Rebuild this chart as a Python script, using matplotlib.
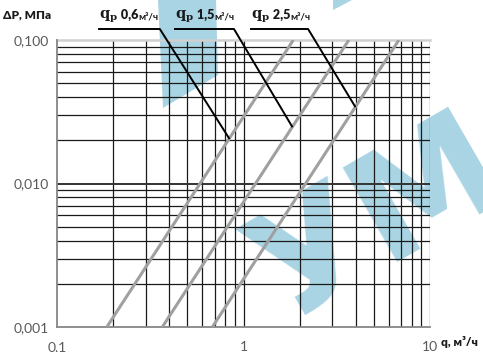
import matplotlib
matplotlib.use("Agg")
import matplotlib.pyplot as plt
import numpy as np
from matplotlib.patches import Polygon

# pressure-loss lines: dP = 0.001 MPa at q_lo, 0.1 MPa at q_hi (slope 2 on log-log)
dp_range = [0.001, 0.1]
q_lo = [0.185, 0.367, 0.681]
q_hi = [1.85, 3.67, 6.81]

# leader lines for the nominal-flow labels: (q, dP) points
labels_val = ["0,6", "1,5", "2,5"]
lead_q = [[0.168, 0.356, 0.836], [0.429, 0.889, 1.82], [1.097, 2.22, 3.96]]
lead_dp = [[0.1193, 0.1193, 0.0207], [0.1193, 0.1193, 0.0250], [0.1193, 0.1193, 0.0345]]

x_ticks = [0.1, 1, 10]
x_ticklabels = ["0,1", "1", "10"]
y_ticks = [0.001, 0.01, 0.1]
y_ticklabels = ["0,001", "0,010", "0,100"]

FONT = ["Lato", "DejaVu Sans"]
plt.rcParams["font.family"] = FONT
plt.rcParams["mathtext.fontset"] = "dejavuserif"

W, H = 483, 352
fig = plt.figure(figsize=(W / 100, H / 100), dpi=100)
ax = fig.add_axes([57 / W, 1 - 327 / H, (430 - 57) / W, (327 - 40) / H])
ax.set_facecolor("none")

# watermark (behind the chart)
wm = "#a9d4e4"
fig.text(380 / W, 1 - 222 / H, "УМ", fontsize=108, fontweight="bold", color=wm,
         family="DejaVu Sans", rotation=30, rotation_mode="anchor",
         ha="center", va="center", zorder=-5)
fig.patches.append(Polygon([(158 / W, 1), (216 / W, 1), (218 / W, 1 - 75 / H), (163 / W, 1 - 108 / H)],
                           closed=True, transform=fig.transFigure, facecolor=wm,
                           edgecolor="none", zorder=-5))
fig.patches.append(Polygon([(333 / W, 1), (352 / W, 1), (333 / W, 1 - 10 / H)],
                           closed=True, transform=fig.transFigure, facecolor=wm,
                           edgecolor="none", zorder=-5))

ax.set_xscale("log")
ax.set_yscale("log")
ax.set_xlim(0.1, 10)
ax.set_ylim(0.001, 0.1)

# grid: every 1..9 within each decade
for dec in [0.1, 1]:
    for m in range(2, 10):
        ax.axvline(dec * m, color="#1a1a1a", lw=0.9, zorder=1)
ax.axvline(1, color="#1a1a1a", lw=0.9, zorder=1)
ax.axvline(10, color="#444444", lw=0.9, zorder=1)
for dec in [0.001, 0.01]:
    for m in range(2, 10):
        ax.axhline(dec * m, color="#1a1a1a", lw=0.9, zorder=1)
ax.axhline(0.01, color="#333333", lw=1.4, zorder=1)
ax.axhline(0.1, color="#d0d0d0", lw=1.8, zorder=1, clip_on=False)

for s in ["top", "right"]:
    ax.spines[s].set_visible(False)
for s in ["left", "bottom"]:
    ax.spines[s].set_color("#868686")
    ax.spines[s].set_linewidth(1.3)

# pressure-loss lines
for lo, hi in zip(q_lo, q_hi):
    ax.plot([lo, hi], dp_range, color="#a0a0a0", lw=2.2, solid_capstyle="butt", zorder=3)

# leaders and labels
for val, lq, ld in zip(labels_val, lead_q, lead_dp):
    ax.plot(lq, ld, color="black", lw=1.4, clip_on=False, zorder=4)
    t1 = ax.text(lq[0], ld[0] * 1.07, r"$\mathbf{q_p}$", fontsize=10.5, color="#1a1a1a",
                 ha="left", va="bottom", clip_on=False)
    t2 = ax.annotate(" " + val, xy=(1, 0), xycoords=t1, xytext=(0, 2.6), textcoords="offset points",
                     fontsize=9, fontweight="heavy", color="#1a1a1a", ha="left", va="bottom")
    ax.annotate("м³/ч", xy=(1, 0), xycoords=t2, xytext=(0, 0), textcoords="offset points",
                fontsize=7, fontweight="bold", color="#1a1a1a", ha="left", va="bottom")

ax.set_xticks(x_ticks)
ax.set_xticklabels(x_ticklabels)
ax.set_yticks(y_ticks)
ax.set_yticklabels(y_ticklabels)
ax.minorticks_off()
ax.tick_params(length=0, labelsize=10, colors="#595959", pad=6)
ax.tick_params(axis="x", pad=10)

fig.text(3 / W, 1 - 15 / H, "ΔP, МПа", fontsize=8.5, fontweight="heavy", color="#1a1a1a",
         ha="left", va="center")
fig.text(441 / W, 1 - 342 / H, "q, м³/ч", fontsize=8.5, fontweight="heavy", color="#1a1a1a",
         ha="left", va="center")

fig.savefig("out.png", dpi=100)
